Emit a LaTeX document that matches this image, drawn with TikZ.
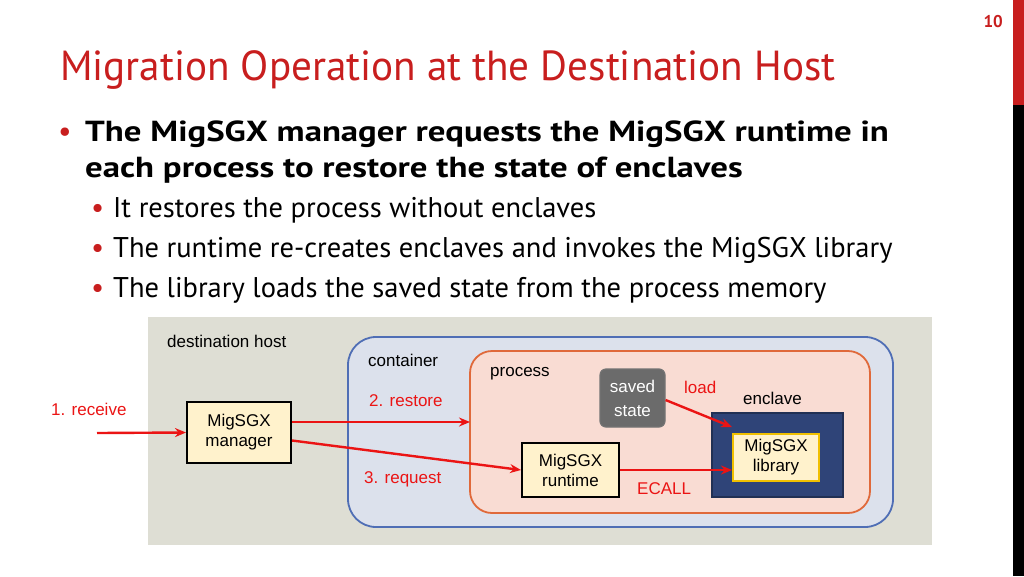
\documentclass[tikz,border=0pt]{standalone}
\usepackage{fontspec}
\setmainfont{PT Sans}
\newfontfamily\dfont{Liberation Sans}
\usetikzlibrary{arrows.meta}
\definecolor{tred}{RGB}{200,30,30}
\definecolor{hostbg}{RGB}{222,222,212}
\definecolor{contbg}{RGB}{220,225,236}
\definecolor{contbd}{RGB}{79,110,181}
\definecolor{procbg}{RGB}{249,220,211}
\definecolor{procbd}{RGB}{224,105,58}
\definecolor{boxbg}{RGB}{255,242,204}
\definecolor{encl}{RGB}{47,68,120}
\definecolor{ylw}{RGB}{240,192,0}
\definecolor{arr}{RGB}{235,20,20}
\begin{document}
\begin{tikzpicture}[x=1pt,y=-1pt,
  lbl/.style={font=\dfont\fontsize{17}{20}\selectfont,anchor=west,inner sep=0},
  rlbl/.style={lbl,text=arr},
  ybox/.style={draw=black,line width=2pt,fill=boxbg,align=center,font=\dfont\fontsize{17}{20}\selectfont,inner sep=0},
  rarrow/.style={draw=arr,line width=2.4pt,-{Stealth[length=11pt,width=9pt]}},
  bul/.style={anchor=base west,inner sep=0}]
\useasboundingbox (0,0) rectangle (1024,576);
\fill[white] (0,0) rectangle (1024,576);
\fill[tred] (1013,0) rectangle (1024,105);
\fill[black] (1013,105) rectangle (1024,576);
\node[anchor=base east,text=tred,font=\fontsize{17}{20}\selectfont\bfseries,inner sep=0] (pg) at (1003,27) {10};
\node[anchor=base west,text=tred,inner sep=0] (title) at (60,80) {\scalebox{0.98}[1]{\fontsize{42}{48}\selectfont Migration Operation at the Destination Host}};
% bullets
\node[bul,text=tred,font=\fontsize{30}{30}\selectfont] (b1) at (58,141) {•};
\node[bul,font=\fontsize{29}{30}\selectfont\bfseries] (t1) at (85,141) {\scalebox{1.2}[1]{The MigSGX manager requests the MigSGX runtime in}};
\node[bul,font=\fontsize{29}{30}\selectfont\bfseries] (t2) at (85,177) {\scalebox{1.2}[1]{each process to restore the state of enclaves}};
\foreach \y/\t [count=\i] in {217/It restores the process without enclaves,257/The runtime re-creates enclaves and invokes the MigSGX library,297/The library loads the saved state from the process memory}{
  \node[bul,text=tred,font=\fontsize{29}{28}\selectfont] (sb\i) at (91,\y) {•};
  \node[bul,font=\fontsize{28.5}{28}\selectfont] (st\i) at (113,\y) {\t};
}
% diagram
\fill[hostbg] (148,317) rectangle (932,545);
\node[lbl] (hl) at (167,341) {destination host};
\draw[contbd,fill=contbg,line width=1.8pt,rounded corners=28pt] (348,337) rectangle (893,527);
\node[lbl] (cl) at (368,360) {container};
\draw[procbd,fill=procbg,line width=1.8pt,rounded corners=22pt] (470,351) rectangle (870,513);
\node[lbl] (pl) at (490,374) {process};
\node[draw=black!55,fill=black!58,line width=1.2pt,rounded corners=6pt,minimum width=65pt,minimum height=58pt,text=white,align=center,font=\dfont\fontsize{17}{24}\selectfont] (ss) at (632.5,398) {saved\\state};
\node[rlbl] (ld) at (684,387) {load};
\node[lbl] (el) at (743,398) {enclave};
\node[draw=encl!70!black,fill=encl,line width=1.5pt,minimum width=131pt,minimum height=84pt,inner sep=0] (enc) at (777.5,455) {};
\node[ybox,draw=ylw,minimum width=86pt,minimum height=47pt] (lib) at (776,457.5) {MigSGX\\library};
\node[ybox,minimum width=97pt,minimum height=54pt] (rt) at (570.5,470) {MigSGX\\runtime};
\node[ybox,minimum width=104pt,minimum height=61pt] (mg) at (239,432.5) {MigSGX\\manager};
\node[rlbl] (rc) at (51,409) {1. receive};
\node[rlbl] (rs) at (369,401) {2. restore};
\node[rlbl] (rq) at (364,479) {3. request};
\node[rlbl] (ec) at (637,489) {ECALL};
\coordinate (rin) at (97,433);
\coordinate (pin) at (470,422);
\draw[rarrow] (rin) -- (mg.west);
\draw[rarrow] (mg.east |- pin) -- (pin);
\draw[rarrow] ([yshift=-8pt]mg.east) -- (rt.west);
\draw[rarrow] (rt.east) -- (lib.west |- rt.east);
\draw[rarrow] ([yshift=-2pt]ss.east) -- ([yshift=6pt]lib.north west);
\end{tikzpicture}
\end{document}
